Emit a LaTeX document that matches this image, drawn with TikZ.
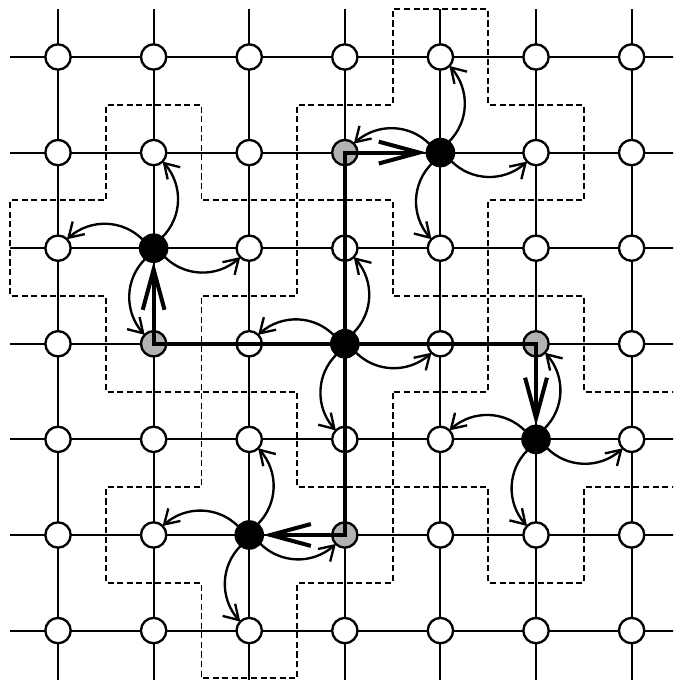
\documentclass[tikz,border=0pt]{standalone}
\usetikzlibrary{arrows.meta,bending}
\begin{document}
\begin{tikzpicture}[x=1cm,y=1cm,
  gridline/.style={line width=0.6pt},
  wnode/.style={circle,draw=black,fill=white,line width=0.7pt,minimum size=0.265cm,inner sep=0pt,outer sep=0pt},
  bnode/.style={fill=black,minimum size=0.285cm},
  gnode/.style={fill=gray!60},
  tile/.style={line width=0.55pt,dash pattern=on 1.8pt off 1.045pt,dash phase=2.32pt},
  thickpath/.style={line width=1.2pt,{Straight Barb[length=12pt,width=6.5pt]}-{Straight Barb[length=12pt,width=6.5pt]}},
  swing/.style={line width=0.7pt,-{Straight Barb[length=4.2pt,width=5.2pt]},bend right=45},
  kind 41/.style=bnode, kind 12/.style=bnode, kind 33/.style=bnode,
  kind 54/.style=bnode, kind 25/.style=bnode,
  kind 31/.style=gnode, kind 13/.style=gnode, kind 53/.style=gnode,
  kind 35/.style=gnode
]
\useasboundingbox (-0.607,0.596) rectangle (6.433,-6.517);
\clip (-0.607,0.596) rectangle (6.433,-6.517);

% dashed outlines of the five plus-shaped tiles (each unit edge drawn in a fixed direction)
\foreach \cx/\cy in {4/1,1/2,3/3,5/4,2/5}{
  \draw[tile,shift={(\cx,-\cy)}]
    (-0.5,1.5) -- (0.5,1.5)
    (0.5,0.5) -- (1.5,0.5)
    (-1.5,0.5) -- (-0.5,0.5)
    (-1.5,-0.5) -- (-0.5,-0.5)
    (0.5,-0.5) -- (1.5,-0.5)
    (-0.5,-1.5) -- (0.5,-1.5)
    (-0.5,0.5) -- (-0.5,1.5)
    (0.5,0.5) -- (0.5,1.5)
    (1.5,-0.5) -- (1.5,0.5)
    (-1.5,-0.5) -- (-1.5,0.5)
    (-0.5,-1.5) -- (-0.5,-0.5)
    (0.5,-1.5) -- (0.5,-0.5);
}

% lattice nodes
\foreach \i in {0,...,6}{
  \foreach \j in {0,...,6}{
    \node[wnode, kind \i\j/.try] (n\i\j) at (\i,-\j) {};
  }
}

% stub end points of the lattice lines
\foreach \k in {0,...,6}{
  \coordinate (L\k) at (-0.5,-\k);
  \coordinate (R\k) at (6.6,-\k);
  \coordinate (T\k) at (\k,0.5);
  \coordinate (B\k) at (\k,-6.6);
}

% lattice lines
\foreach \k in {0,...,6}{
  \draw[gridline] (L\k) -- (n0\k);
  \draw[gridline] (n6\k) -- (R\k);
  \draw[gridline] (T\k) -- (n\k0);
  \draw[gridline] (n\k6) -- (B\k);
}
\foreach \a/\b in {0/1,1/2,2/3,3/4,4/5,5/6}{
  \foreach \k in {0,...,6}{
    \draw[gridline] (n\a\k) -- (n\b\k);
    \draw[gridline] (n\k\a) -- (n\k\b);
  }
}

% thick pinwheel
\draw[thickpath] (n12) -- (n13.center) -- (n53.center) -- (n54);
\draw[thickpath] (n25) -- (n35.center) -- (n31.center) -- (n41);

% curved arrows from each black node to its four neighbours
\foreach \bx/\by in {4/1,1/2,3/3,5/4,2/5}{
  \foreach \ang/\dx/\dy in {0/1/0,90/0/-1,180/-1/0,270/0/1}{
    \pgfmathtruncatemacro\nx{\bx+\dx}
    \pgfmathtruncatemacro\ny{\by+\dy}
    \pgfmathtruncatemacro\sa{\ang-38}
    \pgfmathtruncatemacro\ea{\ang-135}
    \draw[swing] (n\bx\by.\sa) to (n\nx\ny.\ea);
  }
}
\end{tikzpicture}
\end{document}
